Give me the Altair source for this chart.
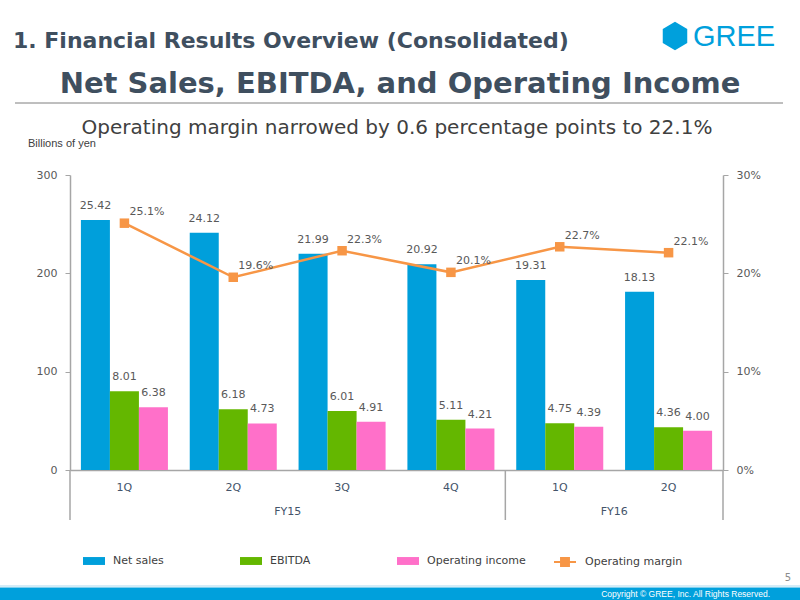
import altair as alt
import pandas as pd

# ---- data -------------------------------------------------------------
fiscal_years = ["FY15", "FY15", "FY15", "FY15", "FY16", "FY16"]
quarters = ["1Q", "2Q", "3Q", "4Q", "1Q", "2Q"]
net_sales = [25.42, 24.12, 21.99, 20.92, 19.31, 18.13]
ebitda = [8.01, 6.18, 6.01, 5.11, 4.75, 4.36]
operating_income = [6.38, 4.73, 4.91, 4.21, 4.39, 4.00]
operating_margin = [25.1, 19.6, 22.3, 20.1, 22.7, 22.1]

series_names = ["Net sales", "EBITDA", "Operating income"]
series_colors = ["#009fdb", "#64b700", "#ff70c9"]
margin_name = "Operating margin"
margin_color = "#f79646"

left_ticks = [0, 10, 20, 30]
right_ticks = [0, 10, 20, 30]

page_title = "1. Financial Results Overview (Consolidated)"
main_title = "Net Sales, EBITDA, and Operating Income"
subtitle = "Operating margin narrowed by 0.6 percentage points to 22.1%"
unit_label = "Billions of yen"
logo_text = "GREE"
page_number = "5"
copyright_text = "Copyright \u00a9 GREE, Inc. All Rights Reserved."

# ---- tables -----------------------------------------------------------
keys = [f"{fy} {q}" for fy, q in zip(fiscal_years, quarters)]

bars_df = pd.DataFrame(
    [
        {"key": k, "series": s, "value": v}
        for s, vals in zip(series_names, [net_sales, ebitda, operating_income])
        for k, v in zip(keys, vals)
    ]
)
margin_df = pd.DataFrame({"key": keys, "margin": operating_margin, "series": margin_name})

# FY group labels sit at the centre of each fiscal-year block
fy_df = pd.DataFrame({"label": ["FY15", "FY16"], "key": ["FY15 3Q", "FY16 2Q"]})
sep_start_df = pd.DataFrame({"key": ["FY15 1Q", "FY16 1Q"]})
sep_end_df = pd.DataFrame({"key": ["FY16 2Q"]})

FONT = "DejaVu Sans"
AXIS_GREY = "#a6a6a6"
TEXT_GREY = "#595959"
SLATE = "#44546a"
BLUE = "#00a0dc"

W, H = 653, 295

x_axis = alt.Axis(
    title=None,
    labelExpr="split(datum.value, ' ')[1]",
    labelAngle=0,
    ticks=False,
    domainColor=AXIS_GREY,
    domainWidth=1.5,
    labelPadding=11,
    labelFont=FONT,
    labelFontSize=11,
    labelColor=SLATE,
)
x_scale = alt.Scale(paddingInner=0, paddingOuter=0)


def x_enc(band=0.5):
    return alt.X("key:N", sort=keys, scale=x_scale, axis=x_axis, bandPosition=band)


xoff = alt.XOffset(
    "series:N", sort=series_names, scale=alt.Scale(paddingOuter=0.376, paddingInner=0)
)

left_axis = alt.Axis(
    title=None,
    values=left_ticks,
    labelExpr="'' + (datum.value * 10)",
    grid=False,
    domainColor=AXIS_GREY,
    domainWidth=1.5,
    tickColor=AXIS_GREY,
    tickSize=5,
    labelPadding=8,
    labelFont=FONT,
    labelFontSize=11,
    labelColor=TEXT_GREY,
)
right_axis = alt.Axis(
    title=None,
    orient="right",
    values=right_ticks,
    labelExpr="datum.value + '%'",
    grid=False,
    domainColor=AXIS_GREY,
    domainWidth=1.5,
    tickColor=AXIS_GREY,
    tickSize=5,
    labelPadding=8,
    labelFont=FONT,
    labelFontSize=11,
    labelColor=TEXT_GREY,
)
y_left = alt.Y("value:Q", scale=alt.Scale(domain=[0, 30], nice=False), axis=left_axis)
y_right = alt.Y("margin:Q", scale=alt.Scale(domain=[0, 30], nice=False), axis=right_axis)

# ---- bars and their value labels ---------------------------------------
bars = alt.Chart(bars_df).mark_bar().encode(
    x=x_enc(),
    xOffset=xoff,
    y=y_left,
    color=alt.Color(
        "series:N",
        sort=series_names,
        scale=alt.Scale(domain=series_names, range=series_colors),
        legend=alt.Legend(
            title=None,
            orient="none",
            legendX=13,
            legendY=375,
            direction="horizontal",
            gridAlign="all",
            columnPadding=28,
            padding=0,
            symbolType="M-1,-0.36H1V0.36H-1Z",
            symbolSize=484,
            symbolStrokeWidth=0,
            symbolOpacity=1,
            labelOffset=8,
            labelFont=FONT,
            labelFontSize=11,
            labelColor="#404040",
        ),
    ),
)
bar_labels = alt.Chart(bars_df).mark_text(
    baseline="bottom", dy=-9, font=FONT, fontSize=11, color=TEXT_GREY
).encode(
    x=x_enc(),
    xOffset=xoff,
    y=y_left,
    text=alt.Text("value:Q", format=".2f"),
)
left = alt.layer(bars, bar_labels)

# ---- operating margin line ----------------------------------------------
line = alt.Chart(margin_df).mark_line(strokeWidth=2.5).encode(
    x=x_enc(),
    y=y_right,
    stroke=alt.Stroke(
        "series:N",
        scale=alt.Scale(domain=[margin_name], range=[margin_color]),
        legend=alt.Legend(
            title=None,
            orient="none",
            legendX=483,
            legendY=375,
            padding=0,
            symbolType="M-1,0H1M-0.36,-0.36H0.36V0.36H-0.36Z",
            symbolSize=484,
            symbolStrokeWidth=2,
            symbolFillColor=margin_color,
            labelOffset=8,
            labelFont=FONT,
            labelFontSize=11,
            labelColor="#404040",
        ),
    ),
)
points = alt.Chart(margin_df).mark_square(size=90, opacity=1, color=margin_color).encode(
    x=x_enc(), y=y_right
)
margin_labels = (
    alt.Chart(margin_df)
    .transform_calculate(txt="format(datum.margin, '.1f') + '%'")
    .mark_text(
        align="left", baseline="middle", dx=5, dy=-11, font=FONT, fontSize=11, color=TEXT_GREY
    )
    .encode(x=x_enc(), y=y_right, text="txt:N")
)
right = alt.layer(line, points, margin_labels)

# ---- category axis furniture below the plot -----------------------------
sep_start = alt.Chart(sep_start_df).mark_rule(color=AXIS_GREY, strokeWidth=1.5).encode(
    x=x_enc(0), y=alt.value(H), y2=alt.value(H + 50)
)
sep_end = alt.Chart(sep_end_df).mark_rule(color=AXIS_GREY, strokeWidth=1.5).encode(
    x=x_enc(1), y=alt.value(H), y2=alt.value(H + 50)
)
fy_labels = alt.Chart(fy_df).mark_text(
    font=FONT, fontSize=11, color=SLATE, baseline="middle"
).encode(x=x_enc(0), y=alt.value(H + 42), text="label:N")

# ---- slide header and footer ---------------------------------------------
def label(text, x, y, **kw):
    return alt.Chart(pd.DataFrame({"t": [text]})).mark_text(**kw).encode(
        text="t:N", x=alt.value(x), y=alt.value(y)
    )

header = label(
    page_title, -57, -134, align="left", baseline="middle", font=FONT,
    fontSize=22, fontWeight="bold", color="#3f4f5f",
)
title_main = label(
    main_title, 330, -91, align="center", baseline="middle", font=FONT,
    fontSize=29, fontWeight="bold", color="#3f4f5f",
)
title_rule = alt.Chart(pd.DataFrame({"t": [0]})).mark_rule(
    color="#7f7f7f", strokeWidth=1
).encode(x=alt.value(-55), x2=alt.value(713), y=alt.value(-72))
sub = label(
    subtitle, 327, -47, align="center", baseline="middle", font=FONT,
    fontSize=20, color="#404040",
)
unit = label(
    unit_label, -42, -31, align="left", baseline="middle",
    font="Liberation Sans", fontSize=11, color="#404040",
)
logo_mark = alt.Chart(pd.DataFrame({"t": [0]})).mark_point(
    shape="M0,-1L0.866,-0.5L0.866,0.5L0,1L-0.866,0.5L-0.866,-0.5Z",
    size=800, filled=True, opacity=1, color=BLUE,
).encode(x=alt.value(605), y=alt.value(-139))
logo_word = label(
    logo_text, 623, -138, align="left", baseline="middle",
    font="Liberation Sans", fontSize=29, color=BLUE,
)
page_no = label(
    page_number, 718, 403, align="center", baseline="middle", font=FONT,
    fontSize=10, color="#8c8c8c",
)
footer_line = alt.Chart(pd.DataFrame({"t": [0]})).mark_rule(
    color="#c6e6f5", strokeWidth=1.5
).encode(x=alt.value(-70), x2=alt.value(730), y=alt.value(411))
footer_bar = alt.Chart(pd.DataFrame({"t": [0]})).mark_rect(color=BLUE).encode(
    x=alt.value(-70), x2=alt.value(730), y=alt.value(412.5), y2=alt.value(425)
)
footer_text = label(
    copyright_text, 700, 419, align="right", baseline="middle",
    font="Liberation Sans", fontSize=8.5, color="white",
)

chart = (
    alt.layer(
        left, right, sep_start, sep_end, fy_labels,
        header, title_main, title_rule, sub, unit, logo_mark, logo_word,
        page_no, footer_line, footer_bar, footer_text,
    )
    .resolve_scale(y="independent", color="independent", stroke="independent")
    .properties(
        width=W,
        height=H,
        autosize=alt.AutoSizeParams(type="none"),
        padding={"left": 70, "top": 175, "right": 77, "bottom": 130},
        background="white",
    )
    .configure_view(stroke=None)
)

chart.save("out.html", embed_options={"renderer": "svg", "actions": False})
